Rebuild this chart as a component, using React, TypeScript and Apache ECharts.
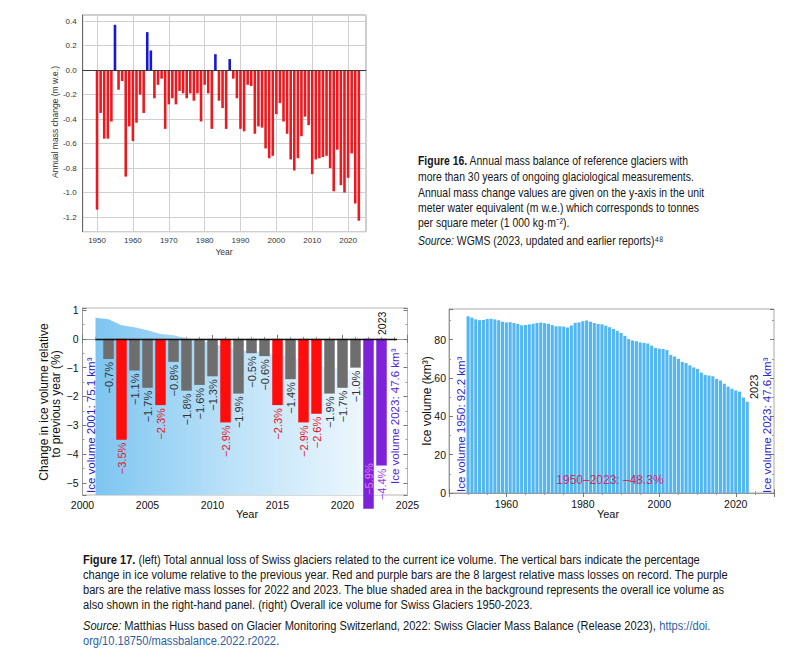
import React, { useEffect, useRef } from "react";
import * as echarts from "echarts";

// ---------- Figure 16: annual mass balance of reference glaciers ----------
const MB_START_YEAR = 1950;
const massBalance = [
  -1.14, -0.35, -0.56, -0.56, -0.42, 0.37, -0.16, -0.09, -0.87, -0.46,
  -0.58, -0.43, -0.2, -0.35, 0.31, 0.16, -0.23, -0.12, -0.07, -0.48,
  -0.28, -0.23, -0.28, -0.17, -0.19, -0.23, -0.19, -0.25, -0.19, -0.42,
  -0.12, -0.19, -0.48, 0.13, -0.25, -0.31, -0.48, 0.09, -0.07, -0.23,
  -0.48, -0.5, -0.12, -0.13, -0.52, -0.46, -0.47, -0.64, -0.72, -0.7,
  -0.36, -0.27, -0.42, -0.52, -0.73, -0.82, -0.72, -0.54, -0.38, -0.45,
  -0.85, -0.73, -0.72, -0.71, -0.7, -0.8, -0.99, -0.65, -0.94, -1.0,
  -0.88, -0.68, -1.09, -1.23,
];

// ---------- Figure 17 left: change in ice volume relative to previous year ----------
const changeYears = [
  2002, 2003, 2004, 2005, 2006, 2007, 2008, 2009, 2010, 2011, 2012,
  2013, 2014, 2015, 2016, 2017, 2018, 2019, 2020, 2021, 2022, 2023,
];
const changePct = [
  -0.7, -3.5, -1.1, -1.7, -2.3, -0.8, -1.8, -1.6, -1.3, -2.9, -1.9,
  -0.5, -0.6, -2.3, -1.4, -2.9, -2.6, -1.9, -1.7, -1.0, -5.9, -4.4,
];
// g = ordinary, r = among 8 largest losses, p = 2022 / 2023
const changeKind = [
  "g", "r", "g", "g", "r", "g", "g", "g", "g", "r", "g",
  "g", "g", "r", "g", "r", "r", "g", "g", "g", "p", "p",
];
// background shading (overall ice volume, drawn on the % axis)
const bgYears = [
  2001, 2002, 2003, 2004, 2005, 2006, 2007, 2008, 2009, 2010, 2011, 2012,
  2013, 2014, 2015, 2016, 2017, 2018, 2019, 2020, 2021, 2022, 2023,
];
const bgLevel = [
  0.73, 0.68, 0.47, 0.4, 0.3, 0.17, 0.12, 0.02, -0.07, -0.14, -0.29, -0.39,
  -0.42, -0.45, -0.57, -0.63, -0.77, -0.9, -0.99, -1.06, -1.11, -1.37, -1.55,
];

// ---------- Figure 17 right: overall ice volume (km3) ----------
const VOL_START_YEAR = 1950;
const iceVolume = [
  92.2, 91.5, 90.6, 90.2, 90.3, 90.8, 90.9, 90.6, 90.1, 89.3,
  89.0, 89.1, 88.7, 88.2, 87.5, 87.6, 88.0, 88.3, 88.7, 88.9,
  88.6, 88.3, 87.6, 87.0, 87.0, 86.8, 86.3, 87.4, 88.8, 89.0,
  89.6, 90.0, 89.3, 88.7, 88.2, 88.0, 87.3, 86.5, 85.6, 84.6,
  83.5, 82.0, 80.3, 79.6, 79.2, 78.6, 78.3, 78.0, 76.9, 75.6,
  75.3, 75.1, 74.6, 72.0, 71.2, 70.0, 68.4, 67.8, 66.6, 65.5,
  64.7, 62.8, 61.6, 61.3, 60.9, 59.5, 58.7, 57.0, 55.5, 54.4,
  53.5, 52.9, 49.8, 47.6,
];

const SANS = '"Liberation Sans", Arial, Helvetica, sans-serif';
const CAP_FONT = '"Liberation Sans", Arial, sans-serif';

const isMult = (v: number, step: number) => Math.abs(v / step - Math.round(v / step)) < 1e-6;
const minus = (s: string) => s.replace("-", "\u2212");

const KIND_COLOR: Record<string, string> = { g: "#6e6e6e", r: "#ff0d0d", p: "#7d22d8" };
const KIND_LABEL: Record<string, string> = { g: "#333333", r: "#e3141c", p: "#a534e0" };

function vText(x: number, y: number, text: string, size: number, fill: string, align = "left") {
  return {
    type: "text",
    x,
    y,
    z: 100,
    rotation: Math.PI / 2,
    silent: true,
    style: {
      text,
      fill,
      font: `${size}px ${SANS}`,
      align,
      verticalAlign: "middle",
      textAlign: align,
      textVerticalAlign: "middle",
    },
  };
}
function hText(x: number, y: number, text: string, size: number, fill: string, align = "center", weight = "normal") {
  return {
    type: "text",
    x,
    y,
    z: 100,
    silent: true,
    style: {
      text,
      fill,
      font: `${weight} ${size}px ${SANS}`,
      align,
      verticalAlign: "middle",
      textAlign: align,
      textVerticalAlign: "middle",
    },
  };
}
const CAP_SIZE = 12.5;
const capRich = {
  b: { font: `bold ${CAP_SIZE}px ${CAP_FONT}`, fill: "#161616" },
  i: { font: `italic ${CAP_SIZE}px ${CAP_FONT}`, fill: "#161616" },
  n: { font: `${CAP_SIZE}px ${CAP_FONT}`, fill: "#161616" },
  l: { font: `${CAP_SIZE}px ${CAP_FONT}`, fill: "#2c5fa3" },
};
function capLine(x: number, y: number, text: string, scaleX: number) {
  return {
    type: "text",
    x,
    y,
    z: 100,
    scaleX,
    silent: true,
    style: {
      text,
      rich: capRich,
      fill: "#161616",
      font: `${CAP_SIZE}px ${CAP_FONT}`,
      align: "left",
      verticalAlign: "middle",
      textAlign: "left",
      textVerticalAlign: "middle",
    },
  };
}
const S16 = 0.835;
const S17 = 0.888;

function buildOption() {
  const tickAxisCommon = {
    axisLabel: { show: false },
    splitLine: { show: false },
    axisLine: { show: false },
  };
  return {
    animation: false,
    backgroundColor: "#ffffff",
    textStyle: { fontFamily: SANS },
    grid: [
      { left: 82.7, top: 15, width: 283.3, height: 216.7, show: true, borderColor: "#9a9a9a", borderWidth: 1, backgroundColor: "#ffffff" },
      { left: 82.5, top: 308, width: 325, height: 187, show: true, borderColor: "#b5b5b5", borderWidth: 1 },
      { left: 449, top: 309, width: 325, height: 184, show: true, borderColor: "#a8a8a8", borderWidth: 1 },
    ],
    xAxis: [
      {
        gridIndex: 0, type: "value", min: 1946, max: 2025, minInterval: 10, maxInterval: 10,
        axisLine: { show: true, lineStyle: { color: "#666" } },
        axisTick: { show: false },
        axisLabel: { fontSize: 8, color: "#333", margin: 5, formatter: (v: number) => (isMult(v, 10) ? String(v) : "") },
        splitLine: { show: true, lineStyle: { color: "#cfcfcf" } },
      },
      {
        gridIndex: 1, type: "value", min: 2000, max: 2025, minInterval: 5, maxInterval: 5,
        axisLine: { show: true, lineStyle: { color: "#9a9a9a" } },
        axisTick: { show: true, inside: true, length: 4, lineStyle: { color: "#777" } },
        minorTick: { show: true, splitNumber: 5, length: 2, lineStyle: { color: "#999" } },
        axisLabel: { fontSize: 10.5, color: "#111", margin: 4, formatter: (v: number) => (isMult(v, 5) ? String(v) : "") },
        splitLine: { show: false },
      },
      {
        gridIndex: 1, type: "value", position: "top", min: 2000, max: 2025, minInterval: 5, maxInterval: 5,
        ...tickAxisCommon,
        axisTick: { show: true, inside: true, length: 4, lineStyle: { color: "#777" } },
        minorTick: { show: true, splitNumber: 5, length: 2, lineStyle: { color: "#999" } },
      },
      {
        gridIndex: 2, type: "value", min: 1945, max: 2030, minInterval: 20, maxInterval: 20,
        axisLine: { show: true, lineStyle: { color: "#9a9a9a" } },
        axisTick: { show: true, inside: true, length: 4, lineStyle: { color: "#777" } },
        minorTick: { show: true, splitNumber: 4, length: 2, lineStyle: { color: "#999" } },
        axisLabel: { fontSize: 10.5, color: "#111", margin: 5, formatter: (v: number) => (isMult(v, 20) ? String(v) : "") },
        splitLine: { show: false },
      },
      {
        gridIndex: 2, type: "value", position: "top", min: 1945, max: 2030, minInterval: 20, maxInterval: 20,
        ...tickAxisCommon,
        axisTick: { show: true, inside: true, length: 4, lineStyle: { color: "#777" } },
        minorTick: { show: true, splitNumber: 4, length: 2, lineStyle: { color: "#999" } },
      },
    ],
    yAxis: [
      {
        gridIndex: 0, type: "value", min: -1.32, max: 0.45, minInterval: 0.2, maxInterval: 0.2,
        axisLine: { show: true, lineStyle: { color: "#666" } },
        axisTick: { show: false },
        axisLabel: { fontSize: 8, color: "#333", margin: 6, formatter: (v: number) => (isMult(v, 0.2) ? (Math.round(v * 5) / 5).toFixed(1) : "") },
        splitLine: { show: true, lineStyle: { color: "#cfcfcf" } },
      },
      {
        gridIndex: 1, type: "value", min: -5.42, max: 1.07, minInterval: 1, maxInterval: 1,
        axisLine: { show: true, lineStyle: { color: "#9a9a9a" } },
        axisTick: { show: true, inside: true, length: 4, lineStyle: { color: "#777" } },
        minorTick: { show: true, splitNumber: 2, length: 2, lineStyle: { color: "#999" } },
        axisLabel: { fontSize: 10.5, color: "#111", margin: 4, formatter: (v: number) => (isMult(v, 1) ? minus(String(Math.round(v))) : "") },
        splitLine: { show: false },
      },
      {
        gridIndex: 1, type: "value", position: "right", min: -5.42, max: 1.07, minInterval: 1, maxInterval: 1,
        ...tickAxisCommon,
        axisTick: { show: true, inside: true, length: 4, lineStyle: { color: "#777" } },
        minorTick: { show: true, splitNumber: 2, length: 2, lineStyle: { color: "#999" } },
      },
      {
        gridIndex: 2, type: "value", min: 0, max: 96, interval: 20,
        axisLine: { show: true, lineStyle: { color: "#9a9a9a" } },
        axisTick: { show: true, inside: true, length: 4, lineStyle: { color: "#777" } },
        minorTick: { show: true, splitNumber: 2, length: 2, lineStyle: { color: "#999" } },
        axisLabel: { fontSize: 10.5, color: "#111", margin: 3, formatter: (v: number) => (isMult(v, 20) ? String(v) : "") },
        splitLine: { show: false },
      },
      {
        gridIndex: 2, type: "value", position: "right", min: 0, max: 96, interval: 20,
        ...tickAxisCommon,
        axisTick: { show: true, inside: true, length: 4, lineStyle: { color: "#777" } },
        minorTick: { show: true, splitNumber: 2, length: 2, lineStyle: { color: "#999" } },
      },
    ],
    series: [
      {
        type: "bar",
        xAxisIndex: 0,
        yAxisIndex: 0,
        barWidth: 2.6,
        z: 3,
        data: massBalance.map((v, i) => ({
          value: [MB_START_YEAR + i, v],
          itemStyle: { color: v > 0 ? "#1818d2" : "#ea1a20" },
        })),
        markLine: {
          silent: true,
          symbol: ["none", "none"],
          label: { show: false },
          lineStyle: { color: "#3a3a3a", width: 1, type: "solid" },
          data: [{ yAxis: 0 }],
        },
      },
      {
        type: "line",
        xAxisIndex: 1,
        yAxisIndex: 1,
        symbol: "none",
        z: 1,
        lineStyle: { width: 0 },
        areaStyle: {
          origin: "start",
          opacity: 1,
          color: new echarts.graphic.LinearGradient(0, 0, 1, 0, [
            { offset: 0, color: "#7dc5f1" },
            { offset: 0.5, color: "#bfe3f8" },
            { offset: 1, color: "#f3f9fe" },
          ]),
        },
        data: bgYears.map((y, i) => [y, bgLevel[i]]),
      },
      {
        type: "bar",
        xAxisIndex: 1,
        yAxisIndex: 1,
        barWidth: 10.5,
        clip: false,
        z: 3,
        label: {
          show: true,
          position: "bottom",
          rotate: 90,
          align: "right",
          verticalAlign: "middle",
          distance: 3,
          fontSize: 11,
          fontFamily: SANS,
          formatter: (p: any) => minus(p.value[1].toFixed(1)) + "%",
        },
        data: changeYears.map((y, i) => {
          const k = changeKind[i];
          const item: any = {
            value: [y, changePct[i]],
            itemStyle: { color: KIND_COLOR[k] },
            label: { color: KIND_LABEL[k] },
          };
          if (y === 2022) {
            item.label = { color: "#e27cf0", position: "insideBottom", align: "left", distance: 14 };
          }
          return item;
        }),
        markLine: {
          silent: true,
          symbol: ["none", "none"],
          label: { show: false },
          lineStyle: { color: "#111", width: 1.4, type: "solid" },
          data: [[{ coord: [2001, 0] }, { coord: [2024.2, 0] }]],
        },
      },
      {
        type: "bar",
        xAxisIndex: 3,
        yAxisIndex: 3,
        barWidth: 3.1,
        z: 2,
        itemStyle: { color: "#52b6f3" },
        data: iceVolume.map((v, i) => [VOL_START_YEAR + i, v]),
      },
    ],
    graphic: {
      elements: [
        // Figure 16 chart axis names
        vText(55, 122, "Annual mass change (m w.e.)", 8.5, "#333", "center"),
        hText(224, 252, "Year", 8.5, "#333"),
        // Figure 16 caption
        capLine(418, 161, "{b|Figure 16.}{n| Annual mass balance of reference glaciers with}", S16),
        capLine(418, 177, "{n|more than 30 years of ongoing glaciological measurements.}", S16),
        capLine(418, 193, "{n|Annual mass change values are given on the y-axis in the unit}", S16),
        capLine(418, 208, "{n|meter water equivalent (m w.e.) which corresponds to tonnes}", S16),
        capLine(418, 223, "{n|per square meter (1 000 kg\u00b7m\u207b\u00b2).}", S16),
        capLine(418, 241, "{i|Source:}{n| WGMS (2023, updated and earlier reports)\u2074\u2078}", S16),
        // Figure 17 left chart texts
        vText(44, 402, "Change in ice volume relative", 12, "#111", "center"),
        vText(56, 404, "to previous year (%)", 12, "#111", "center"),
        hText(247, 514, "Year", 11, "#111"),
        vText(91, 493, "Ice volume 2001: 75.1 km\u00b3", 11.5, "#2323c8"),
        vText(394.5, 484, "Ice volume 2023: 47.6 km\u00b3", 11.5, "#4f2ad6"),
        vText(382, 335, "2023", 10.5, "#111"),
        // Figure 17 right chart texts
        vText(427, 401, "Ice volume (km\u00b3)", 12, "#111", "center"),
        hText(608, 514, "Year", 11, "#111"),
        vText(461, 492, "Ice volume 1950: 92.2 km\u00b3", 11.5, "#2a2ad2"),
        vText(767, 493, "Ice volume 2023: 47.6 km\u00b3", 11.5, "#2a2ad2"),
        vText(754, 399, "2023", 11, "#111"),
        hText(610, 480, "1950\u20132023: \u201348.3%", 12, "#d42a5c"),
        // Figure 17 caption
        capLine(83, 560, "{b|Figure 17.}{n| (left) Total annual loss of Swiss glaciers related to the current ice volume. The vertical bars indicate the percentage}", S17),
        capLine(83, 575, "{n|change in ice volume relative to the previous year. Red and purple bars are the 8 largest relative mass losses on record. The purple}", S17),
        capLine(83, 590, "{n|bars are the relative mass losses for 2022 and 2023. The blue shaded area in the background represents the overall ice volume as}", S17),
        capLine(83, 605, "{n|also shown in the right-hand panel. (right) Overall ice volume for Swiss Glaciers 1950-2023.}", S17),
        capLine(83, 626, "{i|Source:}{n| Matthias Huss based on Glacier Monitoring Switzerland, 2022: Swiss Glacier Mass Balance (Release 2023), }{l|https://doi.}", S17),
        capLine(83, 641, "{l|org/10.18750/massbalance.2022.r2022}{n|.}", S17),
      ],
    },
  };
}

export default function App() {
  const ref = useRef<HTMLDivElement>(null);
  useEffect(() => {
    if (!ref.current) return;
    const chart = echarts.init(ref.current, null, { renderer: "svg" });
    chart.setOption(buildOption() as any);
    return () => chart.dispose();
  }, []);
  return (
    <div
      ref={ref}
      style={{ position: "absolute", left: 0, top: 0, width: 800, height: 657, background: "#fff" }}
    />
  );
}
